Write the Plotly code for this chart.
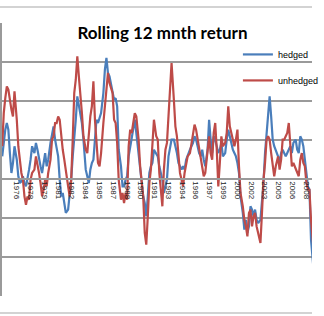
import plotly.graph_objects as go

# month offsets from Jan 1975 (sampled roughly every two months)
month_offset = [
    -1, 1, 3, 5, 7, 9, 11, 13, 15, 18,
    20, 22, 24, 26, 28, 30, 32, 34, 36, 38,
    41, 43, 45, 47, 49, 51, 53, 55, 57, 59,
    62, 64, 66, 68, 70, 72, 74, 76, 78, 80,
    82, 85, 87, 89, 91, 93, 95, 97, 99, 101,
    103, 105, 108, 110, 112, 114, 116, 118, 120, 122,
    124, 126, 128, 131, 133, 135, 137, 139, 141, 143,
    145, 147, 149, 151, 154, 156, 158, 160, 162, 164,
    166, 168, 170, 172, 174, 177, 179, 181, 183, 185,
    187, 189, 191, 193, 195, 197, 200, 202, 204, 206,
    208, 210, 212, 214, 216, 218, 220, 223, 225, 227,
    229, 231, 233, 235, 237, 239, 241, 244, 246, 248,
    250, 252, 254, 256, 258, 260, 262, 264, 267, 269,
    271, 273, 275, 277, 279, 281, 283, 285, 287, 290,
    292, 294, 296, 298, 300, 302, 304, 306, 308, 310,
    313, 315, 317, 319, 321, 323, 325, 327, 329, 331,
    333, 336, 338, 340, 342, 344, 346, 348, 350, 352,
    354, 356, 359, 361, 363, 365, 367, 369, 371, 373,
    375, 377, 379, 382, 384, 386, 388, 390, 392, 394,
    396, 398, 400, 402, 405,
]

hedged = [
    11.6, 20.2, 25.3, 28.7, 25.3, 13.3, 3.1, 8.2, 16.8, 9.9,
    1.4, -2.1, -1.2, 1.4, -2.1, -3.8, -0.3, 4.8, 9.9, 16.8,
    13.3, 18.5, 15.0, 9.9, 6.5, 3.1, 8.2, 13.3, 6.5, 9.9,
    18.5, 21.9, 27.0, 20.2, 15.0, 11.6, -0.3, -8.9, -7.2, -12.3,
    -17.4, -15.7, -8.9, -0.3, 11.6, 20.2, 30.4, 42.4, 37.3, 33.8,
    28.7, 20.2, 4.8, 1.4, -2.1, 4.8, 8.2, 9.9, 18.5, 30.4,
    28.7, 32.1, 33.8, 44.1, 56.1, 62.1, 54.4, 52.6, 49.2, 45.8,
    40.7, 41.5, 37.3, 15.0, 6.5, -3.8, -3.8, -0.3, 1.4, 11.6,
    16.8, 20.2, 27.0, 30.4, 23.6, 13.3, 3.1, -2.1, -8.9, -12.3,
    -19.1, -8.9, 3.1, 6.5, 8.2, 15.0, 13.3, 11.6, 6.5, 3.1,
    -0.3, -7.2, -3.8, -0.3, 11.6, 16.8, 20.2, 20.2, 16.8, 13.3,
    8.2, 6.5, 4.8, 6.5, 4.8, 9.9, 11.6, 15.0, 16.8, 18.5,
    21.9, 20.2, 16.8, 13.3, 11.6, 15.0, 9.9, 6.5, 15.0, 30.4,
    20.2, 13.3, 21.9, 20.2, 16.8, 13.3, 15.0, 18.5, 11.6, 13.3,
    20.2, 25.3, 21.9, 18.5, 15.0, 13.3, 11.6, 8.2, 3.1, -8.9,
    -17.4, -26.0, -20.9, -27.7, -24.3, -14.0, -15.7, -19.1, -15.7, -20.9,
    -22.6, -20.9, -12.3, -2.1, 13.3, 23.6, 33.8, 42.4, 32.1, 20.2,
    16.8, 15.0, 11.6, 8.2, 13.3, 15.0, 13.3, 11.6, 13.3, 15.0,
    16.8, 13.3, 18.5, 20.2, 15.0, 13.3, 21.9, 20.2, 16.8, 9.9,
    3.1, -3.8, -5.5, -31.1, -44.8,
]

unhedged = [
    16.8, 33.8, 41.5, 47.5, 45.8, 39.8, 35.6, 32.1, 45.0, 30.4,
    16.8, 9.9, 3.1, -0.3, -8.9, -13.2, -8.9, -10.6, -0.3, 3.1,
    4.8, 11.6, 8.2, 3.1, -2.1, -8.9, -5.5, -0.3, -3.8, 3.1,
    9.9, 20.2, 21.9, 28.7, 28.7, 32.1, 30.4, 20.2, 15.0, 9.9,
    3.1, -3.8, -8.9, -0.3, 20.2, 44.1, 50.9, 62.9, 52.6, 44.1,
    33.8, 21.9, 15.0, 13.3, 23.6, 32.1, 37.3, 50.1, 30.4, 20.2,
    8.2, 6.5, 13.3, 28.7, 37.3, 47.5, 54.4, 49.2, 45.8, 44.1,
    30.4, 28.7, 18.5, -0.3, -10.6, -7.2, -12.3, -7.2, -10.6, 16.8,
    25.3, 23.6, 28.7, 33.8, 32.1, 20.2, 6.5, -0.3, -8.9, -27.7,
    -33.7, -19.1, -2.1, 4.8, 16.8, 30.4, 21.9, 20.2, 3.1, -7.2,
    -14.0, 4.8, 15.0, 18.5, 30.4, 47.5, 59.5, 40.7, 27.0, 21.9,
    11.6, 3.1, -0.3, -3.8, 3.1, 8.2, 11.6, 13.3, 18.5, 21.9,
    27.9, 25.3, 20.2, 15.0, 9.9, 6.5, 1.4, 3.1, 15.0, 21.9,
    13.3, 9.9, 23.6, 28.7, 15.0, -3.8, 8.2, 21.9, 16.8, 18.5,
    23.6, 37.3, 27.0, 23.6, 20.2, 16.8, 20.2, 25.3, 6.5, -7.2,
    -14.0, -20.9, -24.3, -29.4, -17.4, -15.7, -24.3, -19.1, -17.4, -24.3,
    -27.7, -32.8, -17.4, -0.3, 8.2, 20.2, 21.9, 20.2, 13.3, 6.5,
    1.4, 6.5, 11.6, 4.8, 9.9, 20.2, 20.2, 21.9, 23.6, 28.7,
    18.5, 6.5, 8.2, 4.8, 3.1, 1.4, 9.9, 13.3, 8.2, 6.5,
    -2.1, -5.5, -5.5, -20.9, -34.5,
]

tick_month = [0, 18, 36, 54, 72, 90, 108, 126, 144, 162, 180, 198,
              216, 234, 252, 270, 288, 306, 324, 342, 360, 378, 396]
tick_labels = ["1975", "1976", "1978", "1979", "1981", "1982", "1984", "1985",
               "1987", "1988", "1990", "1991", "1993", "1994", "1996", "1997",
               "1999", "2000", "2002", "2003", "2005", "2006", "2008"]

GRID = "#9a9a9a"

fig = go.Figure()
fig.add_trace(go.Scatter(x=month_offset, y=hedged, mode="lines", name="hedged",
                         legendgroup="a",
                         line=dict(color="#4A7EBB", width=2.2)))
fig.add_trace(go.Scatter(x=month_offset, y=unhedged, mode="lines", name="unhedged",
                         legendgroup="b",
                         line=dict(color="#BE4B48", width=2.2)))

fig.update_layout(
    width=324, height=316,
    margin=dict(l=2, r=0, t=23, b=20),
    paper_bgcolor="white", plot_bgcolor="white",
    title=dict(text="<b>Rolling 12 mnth return</b>", x=0.5015, xanchor="center",
               y=1 - 33 / 316, yanchor="middle",
               font=dict(family="Lato", size=17, color="black")),
    legend=dict(x=0.761, xanchor="left", y=0.938, yanchor="top",
                bgcolor="rgba(0,0,0,0)", tracegroupgap=7,
                font=dict(family="Liberation Sans", size=9, color="black")),
    xaxis=dict(range=[-1.3, 403.3], tickvals=tick_month, ticktext=tick_labels,
               tickangle=90, anchor="free", position=60 / 140,
               showgrid=False, showline=True, linecolor=GRID, linewidth=1.5,
               ticks="", zeroline=False,
               tickfont=dict(family="Liberation Sans", size=8, color="#222222")),
    yaxis=dict(range=[-60, 80], dtick=20, showticklabels=False,
               showgrid=True, gridcolor=GRID, gridwidth=1.5,
               zeroline=False, showline=True, linecolor=GRID, linewidth=1.5),
    shapes=[
        dict(type="line", xref="paper", yref="paper", x0=-0.01, x1=1,
             y0=1 + 16 / 273, y1=1 + 16 / 273, line=dict(color="#a8a8a8", width=1.2)),
        dict(type="line", xref="paper", yref="paper", x0=-0.01, x1=1,
             y0=-17 / 273, y1=-17 / 273, line=dict(color="#a8a8a8", width=1.2)),
    ],
)

fig.write_html("out.html")
